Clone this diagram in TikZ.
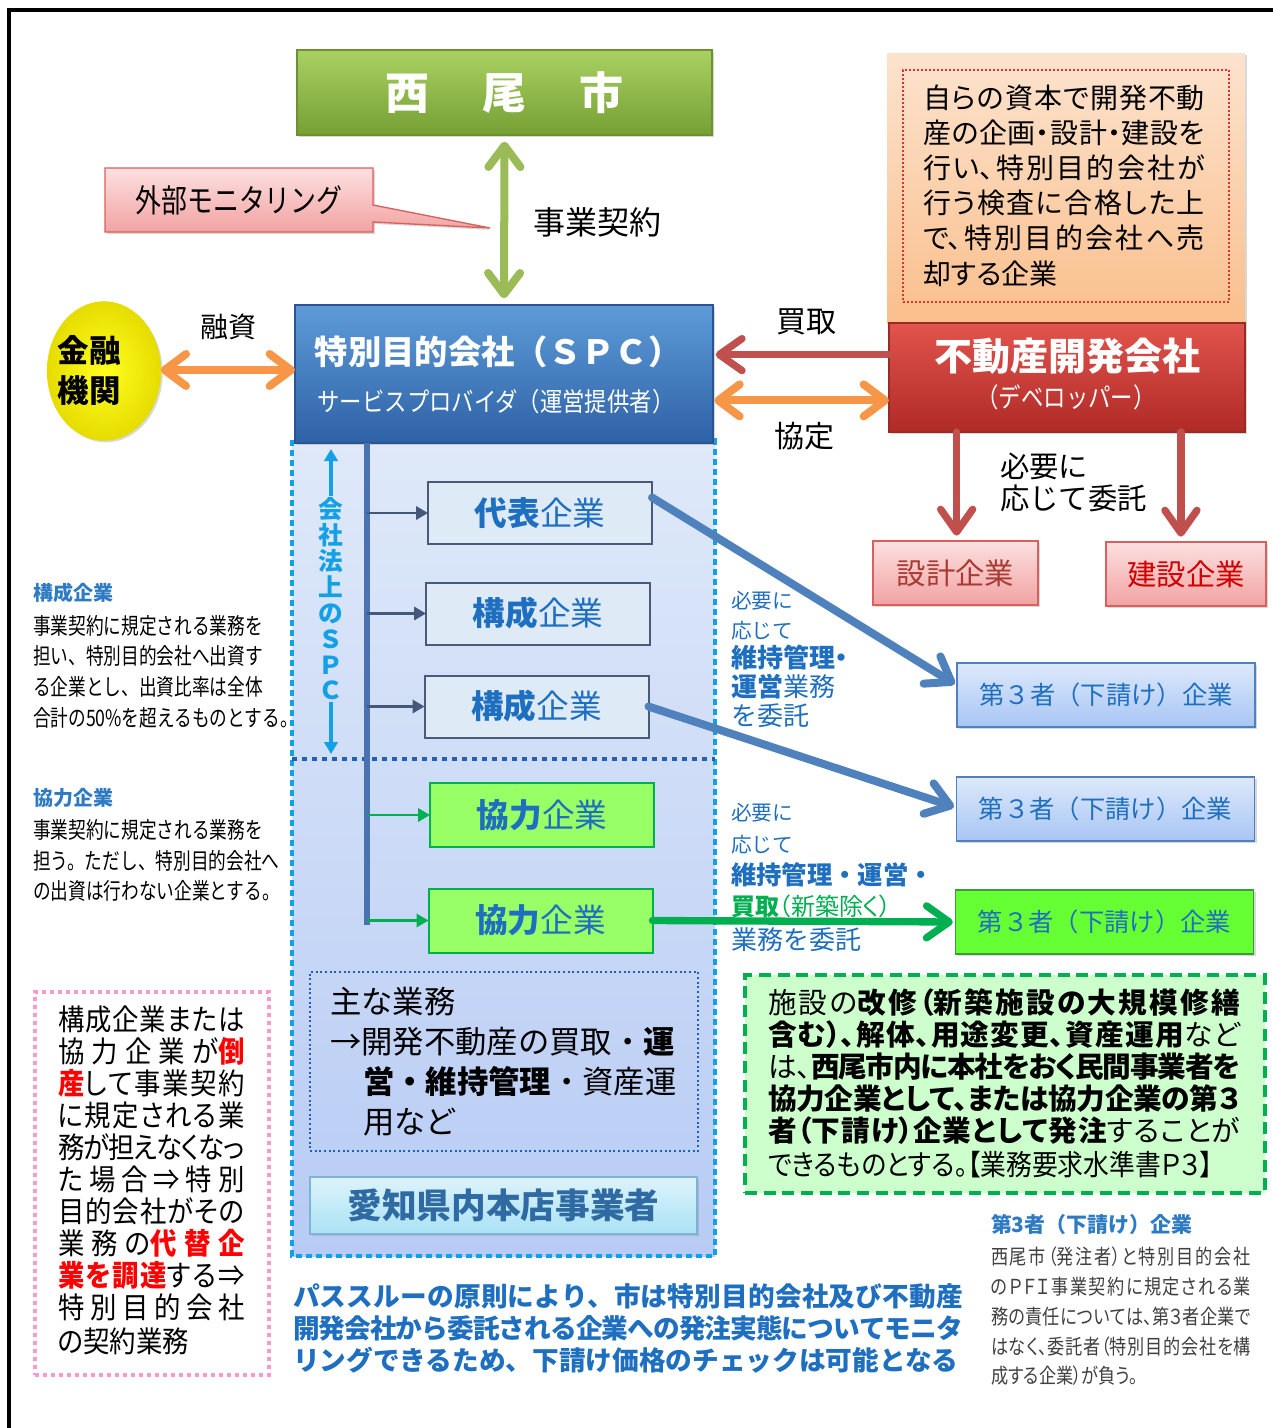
\documentclass[tikz,border=0pt]{standalone}
\usepackage{fontspec}
\usepackage{graphicx}
\setmainfont{Noto Sans CJK JP}
\newfontfamily\pf{Noto Sans CJK JP}[RawFeature=+palt]
\usetikzlibrary{arrows.meta,shadows,calc,shapes.geometric}
\XeTeXlinebreaklocale "ja"
\XeTeXlinebreakskip=0pt plus 6pt minus 2.5pt
\newcommand\fsz[2]{\fontsize{#1pt}{#2pt}\selectfont}
\newcommand\jl[2]{\smash{\parbox[t]{#1}{\tolerance=10000\hbadness=10000\hfuzz=30pt\parfillskip=0pt\relax\noindent #2}}}
\newcommand\cnd[2]{\scalebox{#1}[1]{#2}}
\newcommand\tabl[1]{\begin{tabular}{@{}l@{}}#1\end{tabular}}
\newcommand\rd[1]{{\color{cRedT}\bfseries #1}}

\definecolor{cOlive}{HTML}{9BBB59}
\definecolor{cOrange}{HTML}{F79646}
\definecolor{cRedA}{HTML}{C0504D}
\definecolor{cSteel}{HTML}{4F81BD}
\definecolor{cGreen}{HTML}{00B050}
\definecolor{cCyan}{HTML}{12A0E6}
\definecolor{cTxtBlue}{HTML}{1F6FC0}
\definecolor{cRedT}{HTML}{FF0000}
\definecolor{cCityT}{HTML}{A9D062}
\definecolor{cCityBot}{HTML}{76A034}
\definecolor{cCityB}{HTML}{6E9030}
\definecolor{cSpcT}{HTML}{5E9BD8}
\definecolor{cSpcBot}{HTML}{2E62A6}
\definecolor{cSpcB}{HTML}{2A5590}
\definecolor{cDevT}{HTML}{E2544E}
\definecolor{cDevBot}{HTML}{B02A26}
\definecolor{cDevB}{HTML}{9A2A26}
\definecolor{cOrgT}{HTML}{FCE3CE}
\definecolor{cOrgBot}{HTML}{FABF8C}
\definecolor{cPinkT}{HTML}{FCE0E0}
\definecolor{cPinkBot}{HTML}{F2A2A2}
\definecolor{cPinkB}{HTML}{D9605C}
\definecolor{cRegT}{HTML}{DFE9F9}
\definecolor{cRegBot}{HTML}{B7CBF4}
\definecolor{cDiv}{HTML}{2160B4}
\definecolor{cMemF}{HTML}{DEEBF7}
\definecolor{cMemB}{HTML}{4A5A78}
\definecolor{cKyo}{HTML}{99FF66}
\definecolor{cTpT}{HTML}{DDE9FB}
\definecolor{cTpBot}{HTML}{A8C5F4}
\definecolor{cTp3}{HTML}{66FF33}
\definecolor{cTp3B}{HTML}{3C9C3C}
\definecolor{cAiT}{HTML}{DDF3FB}
\definecolor{cAiBot}{HTML}{A9E2F5}
\definecolor{cAiB}{HTML}{7FB3D6}
\definecolor{cAiTxt}{HTML}{2F6AA3}
\definecolor{cTrunk}{HTML}{4A72B0}
\definecolor{cSmallA}{HTML}{44597A}
\definecolor{cGreenF}{HTML}{CCFFCC}
\definecolor{cPinkDot}{HTML}{FF99CC}
\definecolor{cDotRed}{HTML}{E03030}
\definecolor{cGreyT}{HTML}{404040}
\definecolor{cHeadBlue}{HTML}{2E7BC4}
\definecolor{cSekT}{HTML}{A83A34}
\definecolor{cKenT}{HTML}{D00000}
\definecolor{cBank}{HTML}{FFFF20}
\definecolor{cBankO}{HTML}{E6DC00}

\tikzset{
  shad/.style={drop shadow={opacity=0.3,shadow xshift=1.5pt,shadow yshift=-1.5pt}},
  bigbox/.style={draw=#1, line width=0.8pt, shad},
  member/.style={draw=cMemB, line width=1.5pt, fill=cMemF, minimum width=168pt,
     minimum height=46.5pt, text=cTxtBlue, font=\fsz{24.5}{28}},
  kyobox/.style={draw=cGreen, line width=1.5pt, fill=cKyo, minimum width=168pt,
     minimum height=48pt, text=cTxtBlue, font=\fsz{24.5}{28}},
  tpbox/.style={draw=cSteel, line width=1.2pt, top color=cTpT, bottom color=cTpBot,
     minimum width=223.5pt, minimum height=48pt, text=cTxtBlue, font=\fsz{19}{22}, shad},
  firm/.style={draw=cPinkB, line width=1.2pt, top color=cPinkT, bottom color=cPinkBot,
     minimum height=48pt, font=\fsz{22}{26}, shad},
  dblarrow/.style 2 args={#1, line width=#2, line cap=round,
     {Straight Barb[length=16pt,width=24pt,round]}-{Straight Barb[length=16pt,width=24pt,round]}},
  onearrow/.style 2 args={#1, line width=#2, line cap=round,
     -{Straight Barb[length=17pt,width=24pt,round]}},
  smallarr/.style={#1, line width=1.9pt, -{Triangle[length=9pt,width=10pt]}},
  cyanarr/.style={cCyan, line width=2.8pt, -{Triangle[length=9pt,width=10pt]}},
}

\begin{document}
\begin{tikzpicture}[x=0.75pt,y=-0.75pt, every node/.style={inner sep=0pt, outer sep=0pt}]
\useasboundingbox (0,0) rectangle (1273,1428);
\fill[white] (0,0) rectangle (1273,1428);
% frame
\draw[line width=2.3pt] (9,1428) -- (9,10) -- (1273,10);

% SPC region
\path[top color=cRegT, bottom color=cRegBot] (292,440) rectangle (715,1256);
\draw[cCyan, line width=3.6pt, dash pattern=on 4.5pt off 3pt] (292,440) rectangle (715,1256);
\coordinate (divL) at (292,759);
\coordinate (divR) at (715,759);
\draw[cDiv, line width=2.6pt, dash pattern=on 4pt off 3.5pt] (divL) -- (divR);

% top boxes
\node[bigbox=cCityB, top color=cCityT, bottom color=cCityBot, minimum width=311.25pt,
  minimum height=63.75pt, text=white, font=\fsz{33}{40}\bfseries] (city) at (504.5,92.5)
  {西\hspace{40pt}尾\hspace{40pt}市};

% orange developer note
\node[top color=cOrgT, bottom color=cOrgBot, minimum width=268.5pt, minimum height=202.5pt, shad]
  (devnote) at (1066,188) {};
\node[draw=cDotRed, line width=1.4pt, dash pattern=on 1.4pt off 1.6pt, minimum width=244.5pt,
  minimum height=174pt] (devdot) at (1066,186) {};
\node[anchor=west, font=\pf\fsz{21}{26.4}] (devtxt) at (923,189) {\tabl{%
  \jl{211.5pt}{自らの資本で開発不動}\\
  \jl{211.5pt}{産の企画・設計・建設を}\\
  \jl{211.5pt}{行い、特別目的会社が}\\
  \jl{211.5pt}{行う検査に合格した上}\\
  \jl{211.5pt}{で、特別目的会社へ売}\\
  却する企業}};

% developer
\node[bigbox=cDevB, top color=cDevT, bottom color=cDevBot, minimum width=267pt,
  minimum height=81.75pt] (dev) at (1067,377.5) {};
\node[text=white, font=\fsz{28.5}{32}\bfseries] (devT) at (1067,356) {不動産開発会社};
\node[text=white, font=\fsz{20}{24}] (devS) at (1066,397) {\cnd{0.84}{（デベロッパー）}};

% SPC
\node[bigbox=cSpcB, top color=cSpcT, bottom color=cSpcBot, minimum width=313.5pt,
  minimum height=103.5pt] (spc) at (504,374) {};
\node[text=white, font=\fsz{25}{30}\bfseries] (spcT) at (498,352) {特別目的会社（ＳＰＣ）};
\node[text=white, font=\fsz{19.5}{24}] (spcS) at (496,402) {\cnd{0.86}{サービスプロバイダ（運営提供者）}};

% bank
\node[ellipse, draw=cBankO, line width=0.6pt, inner color=cBank, outer color=cBankO,
  minimum width=85pt, minimum height=104pt, shad] (bank) at (104,371) {};
\node[align=center, font=\fsz{23.6}{30}\bfseries] (bankT) at (89,370) {金融\\機関};

% monitoring callout
\draw[draw=cPinkB, line width=1pt, top color=cPinkT, bottom color=cPinkBot, shad]
  (105,168) -- (373,168) -- (373,205) -- (490,228) -- (373,222) -- (373,232) -- (105,232) -- cycle;
\node[font=\fsz{24}{28}] (mon) at (239,200) {\cnd{0.81}{外部モニタリング}};

% labels top
\node[font=\fsz{24}{28}] (lbKeiyaku) at (597,222) {事業契約};
\node[font=\fsz{21}{26}] (lbYushi) at (228,327) {融資};
\node[font=\fsz{22.5}{26}] (lbKaitori) at (806,322) {買取};
\node[font=\fsz{22.5}{26}] (lbKyotei) at (804,436) {協定};
\node[anchor=west, align=left, font=\fsz{22}{24}] (lbItaku) at (1000,482) {必要に\\応じて委託};

% firms
\node[firm, minimum width=123.75pt, text=cSekT] (sek) at (955.5,573) {設計企業};
\node[firm, minimum width=120pt, text=cKenT] (ken) at (1186,574) {建設企業};

% third party boxes
\node[tpbox] (tp1) at (1106,695) {第３者（下請け）企業};
\node[tpbox] (tp2) at (1105.5,809) {第３者（下請け）企業};
\node[tpbox, top color=cTp3, bottom color=cTp3, draw=cTp3B] (tp3) at (1104.5,922) {第３者（下請け）企業};

% member boxes
\node[member] (m1) at (540,513) {\textbf{代表}企業};
\node[member] (m2) at (538,613.5) {\textbf{構成}企業};
\node[member] (m3) at (536.5,706.5) {\textbf{構成}企業};
\node[kyobox] (k1) at (542,815) {\textbf{協力}企業};
\node[kyobox] (k2) at (540.5,920.5) {\textbf{協力}企業};

% trunk
\coordinate (trT) at (367,443);
\coordinate (trB) at (367,925);
\draw[cTrunk, line width=3.8pt] (trT) -- (trB);
\draw[smallarr=cSmallA] (trT |- m1.west) -- (m1.west);
\draw[smallarr=cSmallA] (trT |- m2.west) -- (m2.west);
\draw[smallarr=cSmallA] (trT |- m3.west) -- (m3.west);
\draw[smallarr=cGreen] (trT |- k1.west) -- (k1.west);
\draw[smallarr=cGreen] (trT |- k2.west) -- (k2.west);

% vertical SPC label
\node[text=cCyan, align=center, font=\fsz{18.5}{19.4}\bfseries] (spcv) at (331,599)
  {会\\社\\法\\上\\の\\Ｓ\\Ｐ\\Ｃ};
\coordinate (sa1) at (331,496);
\coordinate (sa2) at (331,449);
\coordinate (sa3) at (331,702);
\coordinate (sa4) at (331,754);
\draw[cyanarr] (sa1) -- (sa2);
\draw[cyanarr] (sa3) -- (sa4);

% main duties
\node[draw=cDiv, line width=1.3pt, dash pattern=on 1.5pt off 2pt, minimum width=291pt,
  minimum height=134.25pt] (duty) at (504,1061.5) {};
\node[anchor=west, font=\fsz{23.5}{30}] (dutyT) at (330,1065) {\tabl{%
  主な業務\\
  →開発不動産の買取・\textbf{運}\\
  \hspace*{24.75pt}\textbf{営・維持管理}・資産運\\
  \hspace*{24.75pt}用など}};

% aichi
\node[draw=cAiB, line width=1.2pt, top color=cAiT, bottom color=cAiBot, minimum width=290.25pt,
  minimum height=42.75pt, text=cAiTxt, font=\fsz{26}{30}\bfseries, shad] (aichi) at (503.5,1205.5)
  {愛知県内本店事業者};

% arrows
\draw[dblarrow={cOlive}{6pt}, shorten <=5pt, shorten >=5pt] (city.south) -- (spc.north);
\draw[dblarrow={cOrange}{6pt}] (bank.east |- 0,370) -- (spc.west |- 0,370);
\coordinate (buyA) at ($(dev.north west)!0.29!(dev.south west)$);
\coordinate (agrA) at ($(dev.north west)!0.71!(dev.south west)$);
\draw[onearrow={cRedA}{5.5pt}, shorten >=2pt] (buyA) -- (buyA -| spc.east);
\draw[dblarrow={cOrange}{6pt}, shorten >=1pt] (agrA) -- (agrA -| spc.east);
\coordinate (d1) at ($(dev.south west)!0.19!(dev.south east)$);
\coordinate (d2) at ($(dev.south west)!0.82!(dev.south east)$);
\draw[onearrow={cRedA}{5.5pt}, shorten >=4pt] (d1) -- (d1 |- sek.north);
\draw[onearrow={cRedA}{5.5pt}, shorten >=4pt] (d2) -- (d2 |- ken.north);
\coordinate (b1s) at ($(m1.north east)!0.25!(m1.south east)$);
\coordinate (b1e) at ($(tp1.north west)!0.35!(tp1.south west)$);
\draw[onearrow={cSteel}{6pt}, shorten >=2pt] (b1s) -- (b1e);
\coordinate (b2e) at ($(tp2.north west)!0.48!(tp2.south west)$);
\draw[onearrow={cSteel}{6pt}, shorten >=2pt] (m3.east) -- (b2e);
\draw[onearrow={cGreen}{5.5pt}, shorten >=2pt] (k2.east) -- (tp3.west);

% blue labels, group 1
\node[anchor=west, text=cTxtBlue, font=\fsz{15.5}{18}] (g1a) at (731,601) {必要に};
\node[anchor=west, text=cTxtBlue, font=\fsz{15.5}{18}] (g1b) at (731,631) {応じて};
\node[anchor=west, text=cTxtBlue, font=\pf\fsz{19.5}{22}\bfseries] (g1c) at (731,658) {維持管理・};
\node[anchor=west, text=cTxtBlue, font=\fsz{19.5}{22}] (g1d) at (731,687) {\textbf{運営}業務};
\node[anchor=west, text=cTxtBlue, font=\fsz{19.5}{22}] (g1e) at (731,716) {を委託};
% group 2
\node[anchor=west, text=cTxtBlue, font=\fsz{15.5}{18}] (g2a) at (731,813) {必要に};
\node[anchor=west, text=cTxtBlue, font=\fsz{15.5}{18}] (g2b) at (731,845) {応じて};
\node[anchor=west, text=cTxtBlue, font=\fsz{19}{22}\bfseries] (g2c) at (731,875) {維持管理・運営・};
\node[anchor=west, text=cGreen, font=\pf\fsz{18}{22}] (g2d) at (731,906) {\textbf{買取}（新築除く）};
\node[anchor=west, text=cTxtBlue, font=\fsz{19.5}{22}] (g2e) at (731,940) {業務を委託};

% left descriptions
\node[anchor=west, text=cHeadBlue, font=\fsz{15}{18}\bfseries] (h1) at (33,593) {構成企業};
\node[anchor=west, font=\fsz{17}{23}] (t1) at (33,674) {\cnd{0.78}{\tabl{%
  事業契約に規定される業務を\\
  担い、特別目的会社へ出資す\\
  る企業とし、出資比率は全体\\
  合計の50\%を超えるものとする。}}};
\node[anchor=west, text=cHeadBlue, font=\fsz{15}{18}\bfseries] (h2) at (33,798) {協力企業};
\node[anchor=west, font=\fsz{17}{23}] (t2) at (33,863) {\cnd{0.78}{\tabl{%
  事業契約に規定される業務を\\
  担う。ただし、特別目的会社へ\\
  の出資は行わない企業とする。}}};

% pink box
\node[draw=cPinkDot, line width=2.4pt, dash pattern=on 3pt off 3pt, minimum width=175.5pt,
  minimum height=287.25pt] (pink) at (152,1183.5) {};
\node[anchor=west, font=\pf\fsz{22}{24}] (pinkT) at (58,1185) {\cnd{0.9}{\tabl{%
  \jl{155.5pt}{構成企業または}\\
  \jl{155.5pt}{協力企業が\rd{倒}}\\
  \jl{155.5pt}{\rd{産}して事業契約}\\
  \jl{155.5pt}{に規定される業}\\
  \jl{155.5pt}{務が担えなくなっ}\\
  \jl{155.5pt}{た場合⇒特別}\\
  \jl{155.5pt}{目的会社がその}\\
  \jl{155.5pt}{業務の\rd{代替企}}\\
  \jl{155.5pt}{\rd{業を調達}する⇒}\\
  \jl{155.5pt}{特別目的会社}\\
  の契約業務}}};

% green box
\node[draw=cGreen, line width=2.6pt, dash pattern=on 9pt off 5pt, fill=cGreenF,
  minimum width=390pt, minimum height=163.5pt] (gbox) at (1005,1084) {};
\node[anchor=west, font=\pf\fsz{21.5}{24}] (gT) at (768,1088) {\tabl{%
  \jl{354pt}{施設の\textbf{改修（新築施設の大規模修繕}}\\
  \jl{354pt}{\textbf{含む）、解体、用途変更、資産運用}など}\\
  \jl{354pt}{は、\textbf{西尾市内に本社をおく民間事業者を}}\\
  \jl{354pt}{\textbf{協力企業として、または協力企業の第３}}\\
  \jl{354pt}{\textbf{者（下請け）企業として発注}することが}\\
  \cnd{0.9}{できるものとする。【業務要求水準書Ｐ３】}}};

% bottom blue text
\node[anchor=west, text=cTxtBlue, font=\fsz{20}{23.6}\bfseries] (pass) at (293,1332.5) {\tabl{%
  \jl{502.5pt}{パススルーの原則により、市は特別目的会社及び不動産}\\
  \jl{502.5pt}{開発会社から委託される企業への発注実態についてモニタ}\\
  リングできるため、下請け価格のチェックは可能となる}};

% right note
\node[anchor=west, text=cHeadBlue, font=\fsz{15.7}{18}\bfseries] (h3) at (991,1225) {第3者（下請け）企業};
\node[anchor=west, text=cGreyT, font=\pf\fsz{15.5}{22.3}] (t3) at (991,1318.5) {\cnd{0.83}{\tabl{%
  \jl{235pt}{西尾市（発注者）と特別目的会社}\\
  \jl{235pt}{のＰＦＩ事業契約に規定される業}\\
  \jl{235pt}{務の責任については、第３者企業で}\\
  \jl{235pt}{はなく、委託者（特別目的会社を構}\\
  成する企業）が負う。}}};
\end{tikzpicture}
\end{document}
